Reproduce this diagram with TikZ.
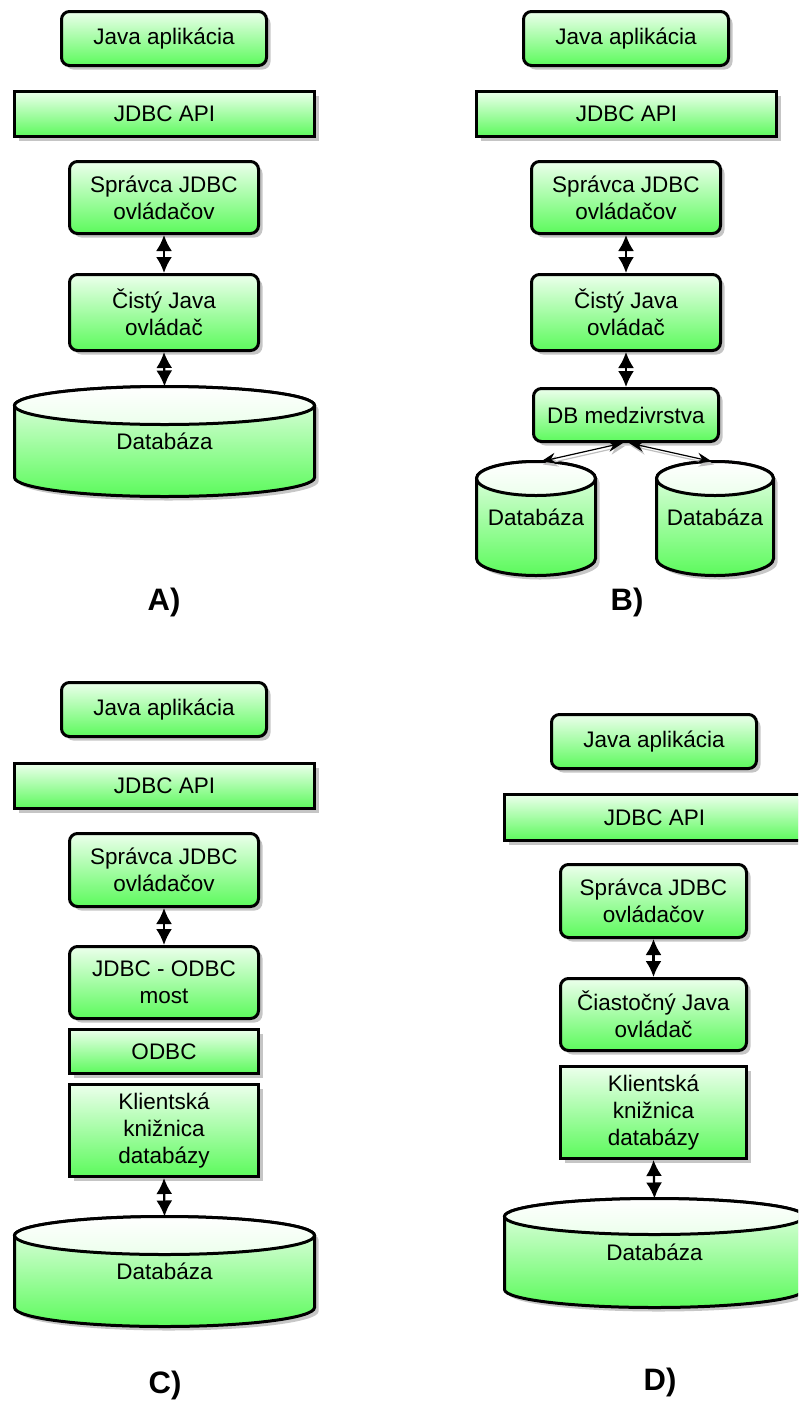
\documentclass[tikz,border=0pt]{standalone}
\usepackage{fontspec}
\setmainfont{Liberation Sans}
\usetikzlibrary{arrows.meta,shadows,calc}
\definecolor{gtop}{RGB}{236,255,236}
\definecolor{gbot}{RGB}{92,250,92}
\tikzset{
  box/.style={draw, line width=3pt, top color=gtop, bottom color=gbot,
    font=\fontsize{22.5}{27}\selectfont, align=center, inner sep=0pt,
    drop shadow={shadow xshift=4pt, shadow yshift=-4pt, fill=black!45}},
  rbox/.style={box, rounded corners=8pt},
  sbox/.style={box},
  biarrow/.style={line width=2.2pt, {Latex[length=16pt,width=16pt]}-{Latex[length=16pt,width=16pt]}},
  thinarrow/.style={line width=1.2pt, {Stealth[length=15pt,width=11pt]}-{Stealth[length=15pt,width=11pt]}},
  panel/.style={font=\fontsize{31}{36}\selectfont\bfseries},
  dbtext/.style={font=\fontsize{22.5}{27}\selectfont, inner sep=0pt},
}
% #1 name, #2 x centre, #3 y of top ellipse centre, #4 rx, #5 body height, #6 ry, #7 text y
\newcommand{\dbcylinder}[7]{%
  \fill[black!22, xshift=4pt, yshift=-4pt] (#2-#4,#3) -- (#2-#4,#3-#5)
     arc[start angle=180, end angle=360, x radius=#4, y radius=#6] -- (#2+#4,#3)
     arc[start angle=0, end angle=180, x radius=#4, y radius=#6] -- cycle;
  \path[draw, line width=3pt, top color=gtop, bottom color=gbot] (#2-#4,#3) -- (#2-#4,#3-#5)
     arc[start angle=180, end angle=360, x radius=#4, y radius=#6] -- (#2+#4,#3)
     arc[start angle=0, end angle=180, x radius=#4, y radius=#6] -- cycle;
  \path[draw, line width=3pt, top color=white, bottom color=gtop] (#2,#3) ellipse [x radius=#4, y radius=#6];
  \node[dbtext] (#1) at (#2,#7) {Databáza};
  \coordinate (#1-top) at (#2,#3+#6);
}
\begin{document}
\begin{tikzpicture}[x=1pt, y=1pt]
\useasboundingbox (0,0) rectangle (798,-1403);
\clip (0,0) rectangle (798,-1403);

% ---------- A ----------
\node[rbox, minimum width=205pt, minimum height=54pt] (a1) at (164,-38.5) {Java aplikácia};
\node[sbox, minimum width=300pt, minimum height=45pt] (a2) at (164.5,-114) {JDBC API};
\node[rbox, minimum width=189pt, minimum height=72pt] (a3) at (164,-197.5) {Správca JDBC\\ovládačov};
\node[rbox, minimum width=189pt, minimum height=76pt] (a4) at (164,-312.5) {Čistý Java\\ovládač};
\dbcylinder{a5}{164.5}{-405.5}{150}{72}{19}{-441}
\draw[biarrow] (a3.south) -- (a4.north);
\draw[biarrow] (a4.south) -- (a5-top);
\node[panel] (la) at (164,-602) {A)};

% ---------- B ----------
\node[rbox, minimum width=205pt, minimum height=54pt] (b1) at (626,-38.5) {Java aplikácia};
\node[sbox, minimum width=300pt, minimum height=45pt] (b2) at (626.5,-114) {JDBC API};
\node[rbox, minimum width=189pt, minimum height=72pt] (b3) at (626,-197.5) {Správca JDBC\\ovládačov};
\node[rbox, minimum width=189pt, minimum height=76pt] (b4) at (626,-312.5) {Čistý Java\\ovládač};
\node[rbox, minimum width=185pt, minimum height=53pt] (b5) at (626,-415) {DB medzivrstva};
\dbcylinder{b6}{536}{-478.5}{59.5}{80}{17}{-517}
\dbcylinder{b7}{715}{-478.5}{58.5}{80}{17}{-517}
\draw[biarrow] (b3.south) -- (b4.north);
\draw[biarrow] (b4.south) -- (b5.north);
\draw[thinarrow, black!25, transform canvas={xshift=2pt, yshift=-3pt}] ([xshift=-3pt]b5.south) -- ([xshift=5pt]b6-top);
\draw[thinarrow, black!25, transform canvas={xshift=2pt, yshift=-3pt}] ([xshift=3pt]b5.south) -- ([xshift=-3pt]b7-top);
\draw[thinarrow] ([xshift=-3pt]b5.south) -- ([xshift=5pt]b6-top);
\draw[thinarrow] ([xshift=3pt]b5.south) -- ([xshift=-3pt]b7-top);
\node[panel] (lb) at (627,-602) {B)};

% ---------- C ----------
\node[rbox, minimum width=205pt, minimum height=54pt] (c1) at (164,-709.5) {Java aplikácia};
\node[sbox, minimum width=300pt, minimum height=45pt] (c2) at (164.5,-786) {JDBC API};
\node[rbox, minimum width=189pt, minimum height=73pt] (c3) at (164,-870) {Správca JDBC\\ovládačov};
\node[rbox, minimum width=189pt, minimum height=72pt] (c4) at (164,-982.5) {JDBC - ODBC\\most};
\node[sbox, minimum width=189pt, minimum height=44pt] (c5) at (164,-1051.5) {ODBC};
\node[sbox, minimum width=189pt, minimum height=92pt] (c6) at (164,-1130.5) {Klientská\\knižnica\\databázy};
\dbcylinder{c7}{164.5}{-1235.5}{150}{72}{19}{-1271}
\draw[biarrow] (c3.south) -- (c4.north);
\draw[biarrow] (c6.south) -- (c7-top);
\node[panel] (lc) at (165,-1385) {C)};

% ---------- D ----------
\node[rbox, minimum width=205pt, minimum height=54pt] (d1) at (654,-741.5) {Java aplikácia};
\node[sbox, minimum width=300pt, minimum height=46pt] (d2) at (654.5,-817.5) {JDBC API};
\node[rbox, minimum width=186pt, minimum height=73pt] (d3) at (653.5,-901) {Správca JDBC\\ovládačov};
\node[rbox, minimum width=186pt, minimum height=72pt] (d4) at (653.5,-1014.5) {Čiastočný Java\\ovládač};
\node[sbox, minimum width=186pt, minimum height=92pt] (d5) at (653.5,-1112.5) {Klientská\\knižnica\\databázy};
\dbcylinder{d6}{654.5}{-1216.5}{150}{73}{18}{-1252}
\draw[biarrow] (d3.south) -- (d4.north);
\draw[biarrow] (d5.south) -- (d6-top);
\node[panel] (ld) at (660,-1382) {D)};
\end{tikzpicture}
\end{document}
